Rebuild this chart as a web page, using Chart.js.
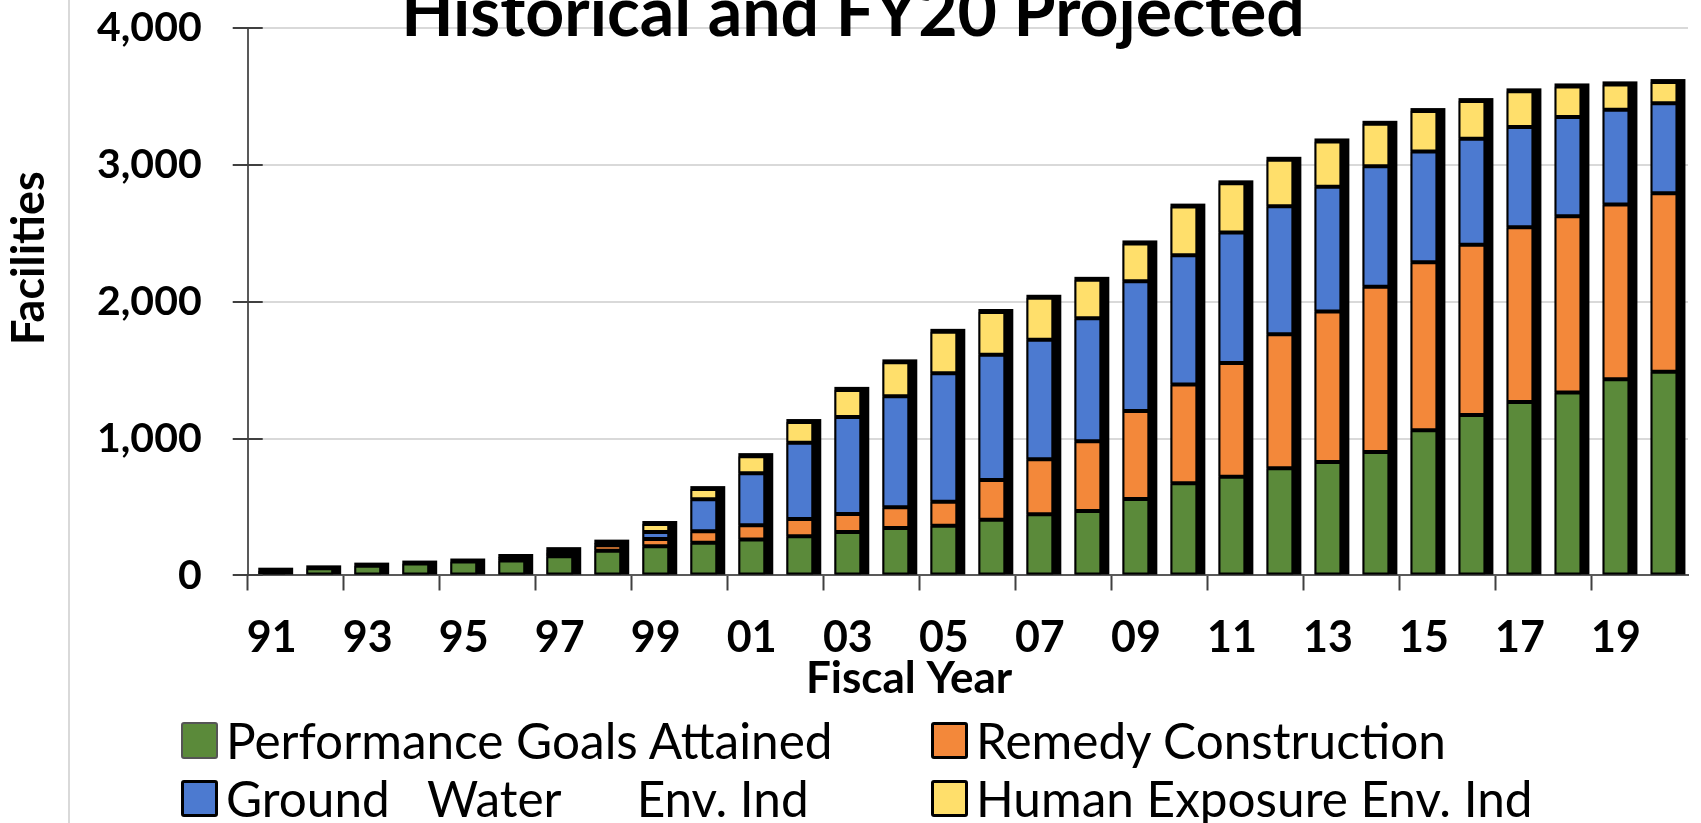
<!DOCTYPE html>
<html>
<head>
<meta charset="utf-8">
<title>Historical and FY20 Projected</title>
<script src="https://cdn.jsdelivr.net/npm/chart.js@4.4.0/dist/chart.umd.min.js"></script>
<style>
body { margin: 0; background: #fff; overflow: hidden; }
#wrap { position: relative; width: 1701px; height: 823px; overflow: hidden; }
#frame { position: absolute; left: 68px; top: 0; height: 823px; border-left: 2px solid #d9d9d9; }
#mycanvas { position: absolute; left: 0; top: 0; }
#title { position: absolute; left: 0; width: 1706px; top: -24px; text-align: center; font-family: Lato, sans-serif;
	font-weight: bold; font-size: 68px; line-height: 68px; color: #000; white-space: pre; }
#legend { position: absolute; left: 181px; top: 711px; font-family: Lato, sans-serif; font-size: 49.5px; color: #000;
	display: grid; grid-template-columns: 750px auto; grid-auto-rows: 58px; }
.item { display: flex; align-items: center; white-space: pre; }
.box { width: 31px; height: 31px; margin-right: 8px; border: 3px solid #000; border-radius: 3px; }
</style>
</head>
<body>
<div id="wrap">
	<div id="frame"></div>
	<canvas id="mycanvas" width="1701" height="823"></canvas>
	<div id="title">Historical and FY20 Projected</div>
	<div id="legend"></div>
</div>
<script>
var years = ['91','92','93','94','95','96','97','98','99','00','01','02','03','04','05',
	'06','07','08','09','10','11','12','13','14','15','16','17','18','19','20'];

var goalsAttained      = [35, 52, 72, 87, 102, 110, 140, 180, 213, 240, 263, 286, 317, 346, 363,
	407, 448, 472, 559, 673, 722, 783, 829, 902, 1061, 1173, 1268, 1337, 1434, 1488];
var remedyConstruction = [0, 0, 0, 0, 0, 15, 30, 40, 53, 83, 104, 126, 133, 153, 175,
	290, 402, 509, 642, 722, 831, 980, 1100, 1208, 1227, 1244, 1276, 1287, 1276, 1305];
var groundWater        = [0, 0, 0, 0, 0, 0, 5, 8, 52, 234, 380, 557, 707, 811, 939,
	916, 872, 898, 949, 944, 953, 935, 912, 880, 810, 773, 732, 725, 692, 658];
var humanExposure      = [0, 0, 0, 0, 0, 10, 10, 12, 58, 74, 125, 152, 199, 247, 303,
	312, 307, 281, 276, 356, 359, 339, 330, 310, 295, 276, 261, 224, 186, 154];

var seriesNames  = ['Performance Goals Attained', 'Remedy Construction', 'Ground   Water      Env. Ind', 'Human Exposure Env. Ind'];
var seriesColors = ['#5b8a3a', '#f3883a', '#4c7ad0', '#ffdf6b'];
var yTicks = [0, 1000, 2000, 3000, 4000];

Chart.defaults.font.family = 'Lato';
Chart.defaults.color = '#000';

// black block behind each stacked column (the 3d look of the original)
var barShadow = {
	id: 'barShadow',
	beforeDatasetsDraw: function(chart) {
		var ctx = chart.ctx;
		var first = chart.getDatasetMeta(0).data;
		ctx.save();
		ctx.fillStyle = '#000';
		for (var i = 0; i < first.length; i++) {
			var top = first[i].y;
			for (var d = 1; d < chart.data.datasets.length; d++) {
				var el = chart.getDatasetMeta(d).data[i];
				if (el.y < top) top = el.y;
			}
			var w = first[i].width;
			ctx.fillRect(first[i].x - w / 2, top - 3, w + 8, first[i].base - top + 3);
		}
		ctx.restore();
	}
};

// y tick marks cross the axis line (15px each side)
var crossTicks = {
	id: 'crossTicks',
	afterDraw: function(chart) {
		var ctx = chart.ctx;
		var y = chart.scales.y;
		ctx.save();
		ctx.strokeStyle = '#404040';
		ctx.lineWidth = 2;
		ctx.beginPath();
		for (var i = 0; i < y.ticks.length; i++) {
			var py = Math.round(y.getPixelForValue(y.ticks[i].value));
			ctx.moveTo(y.right - 15, py);
			ctx.lineTo(y.right + 15, py);
		}
		ctx.stroke();
		ctx.restore();
	}
};

var stackData = [goalsAttained, remedyConstruction, groundWater, humanExposure];
var datasets = [];
for (var s = 0; s < stackData.length; s++) {
	datasets.push({
		label: seriesNames[s],
		data: stackData[s],
		backgroundColor: seriesColors[s],
		borderColor: '#000',
		borderWidth: 2,
		borderSkipped: false,
		barPercentage: 0.56,
		categoryPercentage: 1
	});
}

var chartdata = {
	labels: years,
	datasets: datasets
};

var ctx = document.getElementById('mycanvas');
var StackChart = new Chart(ctx, {
	type: 'bar',
	data: chartdata,
	plugins: [barShadow, crossTicks],
	options: {
		responsive: false,
		animation: false,
		devicePixelRatio: 1,
		layout: { padding: { left: 7, right: 13, top: 28, bottom: 129 } },
		plugins: {
			legend: { display: false },
			tooltip: { enabled: false }
		},
		scales: {
			x: {
				stacked: true,
				offset: true,
				grid: {
					display: true,
					offset: true,
					drawOnChartArea: false,
					drawTicks: true,
					tickLength: 15,
					tickWidth: 2,
					tickColor: function(c) { return c.index % 2 === 0 ? '#404040' : 'rgba(0,0,0,0)'; }
				},
				border: { display: true, color: '#595959', width: 2 },
				ticks: {
					autoSkip: false,
					maxRotation: 0,
					padding: 22,
					font: { size: 43, weight: 'bold' },
					callback: function(v, i) { return i % 2 === 0 ? years[i] : ''; }
				},
				title: {
					display: true,
					// trailing spaces pull the title left, as in the original
					text: 'Fiscal Year           ',
					font: { size: 44, weight: 'bold', lineHeight: 0.68 },
					padding: { top: -22, bottom: 0 }
				}
			},
			y: {
				stacked: true,
				min: yTicks[0],
				max: yTicks[yTicks.length - 1],
				afterBuildTicks: function(axis) {
					axis.ticks = yTicks.map(function(v) { return { value: v }; });
				},
				grid: {
					color: '#d9d9d9',
					lineWidth: 2,
					// the gap to the labels; marks themselves come from crossTicks
					tickColor: 'rgba(0,0,0,0)',
					tickLength: 46
				},
				border: { display: true, color: '#595959', width: 2 },
				ticks: {
					padding: 0,
					font: { size: 41, weight: 'bold' }
				},
				title: {
					display: true,
					// leading spaces lift the title, as in the original
					text: '        Facilities',
					font: { size: 45, weight: 'bold', lineHeight: 1 },
					padding: { top: 0, bottom: 45 }
				}
			}
		}
	}
});

// legend laid out as the original two column grid
var legend = document.getElementById('legend');
for (var k = 0; k < seriesNames.length; k++) {
	var item = document.createElement('div');
	item.className = 'item';
	var box = document.createElement('span');
	box.className = 'box';
	box.style.background = seriesColors[k];
	if (k === 0) { box.style.borderColor = '#555'; box.style.borderWidth = '2px'; box.style.width = '33px'; box.style.height = '33px'; }
	item.appendChild(box);
	item.appendChild(document.createTextNode(seriesNames[k]));
	legend.appendChild(item);
}
</script>
</body>
</html>
